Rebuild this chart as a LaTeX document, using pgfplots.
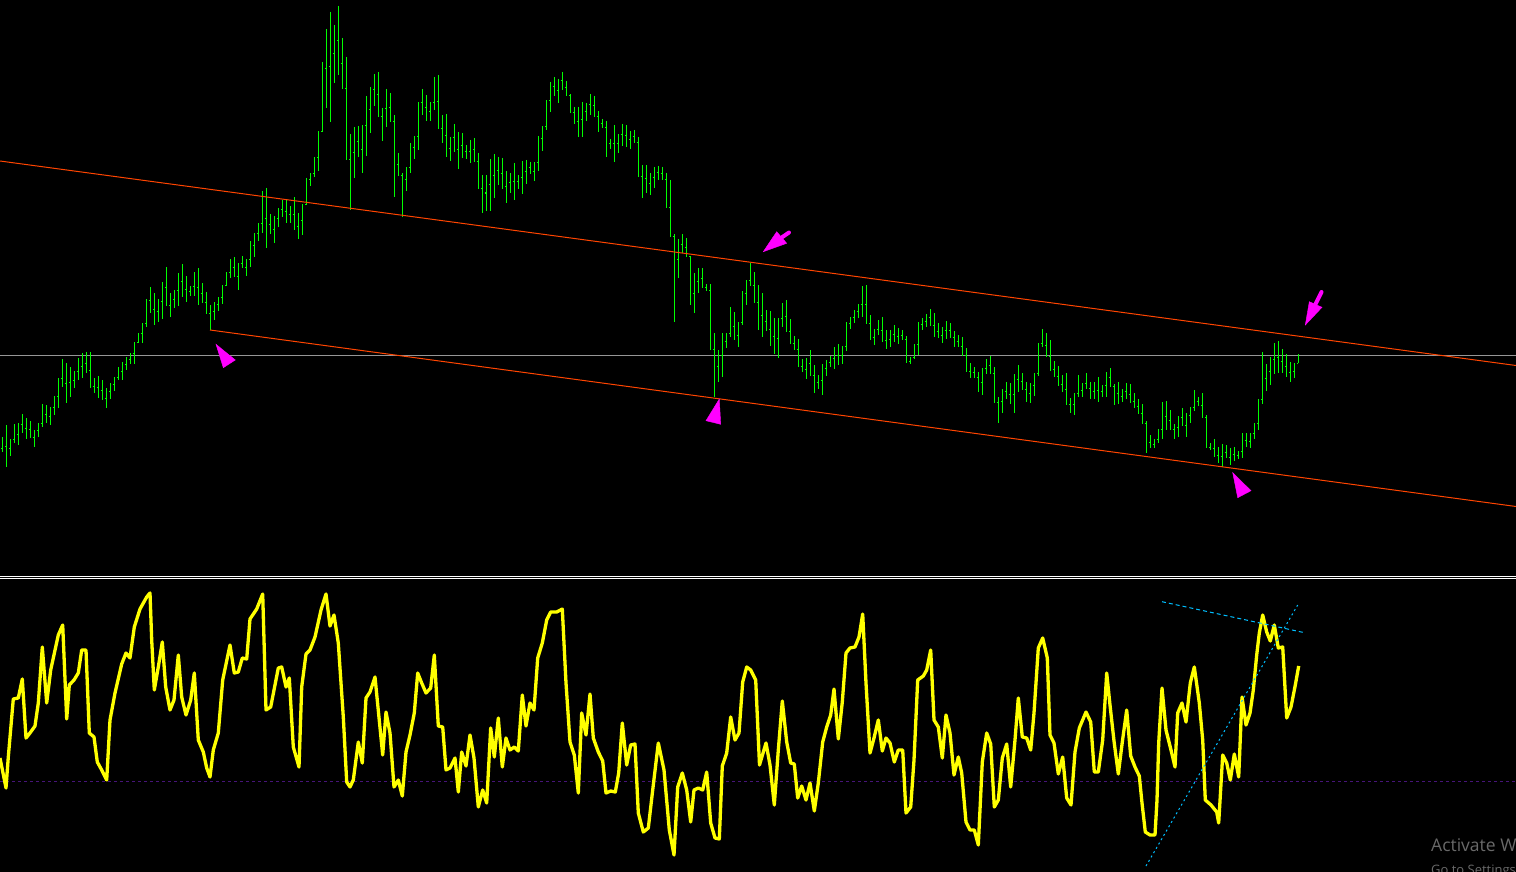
\documentclass[border=0pt]{standalone}
\usepackage{fontspec}
\newfontfamily\wm{Open Sans}
\usepackage{pgfplots}
\usepackage{pgfplotstable}
\pgfplotsset{compat=1.18}

\definecolor{barg}{RGB}{0,255,0}
\definecolor{chred}{RGB}{255,69,0}
\definecolor{hgray}{RGB}{150,150,150}
\definecolor{mag}{RGB}{255,0,255}
\definecolor{osc}{RGB}{255,255,0}
\definecolor{lvl}{RGB}{70,20,120}
\definecolor{dsb}{RGB}{0,191,255}
\definecolor{wmgray}{RGB}{105,105,105}

% price bars in screen units: x, high, low, open, close
\pgfplotstableread{
x h l o c
2 437 452 448 446
6 425 467 446 448
10 439 456 448 439
14 424 443 439 434
18 423 445 434 424
22 414 433 424 428
26 418 439 428 429
30 421 437 429 437
34 430 447 437 430
38 423 437 430 423
42 404 427 423 414
46 405 423 414 416
50 407 425 416 407
54 396 415 407 396
58 378 408 396 378
62 359 387 378 383
66 363 403 383 382
70 367 397 382 380
74 371 388 380 371
78 358 380 371 366
82 353 378 366 363
86 352 373 363 370
90 352 388 370 386
94 378 393 386 387
98 376 398 387 390
102 380 400 390 398
106 388 408 398 391
110 383 399 391 384
114 377 391 384 377
118 367 380 377 371
122 362 380 371 364
126 357 370 364 359
130 353 364 359 353
134 342 364 353 342
138 333 343 342 333
142 323 343 333 323
146 299 327 323 300
150 287 313 300 309
154 293 325 309 311
158 299 322 311 301
162 282 319 301 287
166 267 306 287 305
170 293 317 305 299
174 290 308 299 290
178 273 306 290 281
182 264 297 281 289
186 276 302 289 291
190 286 296 291 286
194 272 296 286 287
198 268 305 287 293
202 283 303 293 302
206 292 313 302 313
210 305 330 313 311
214 302 320 311 304
218 297 311 304 297
222 285 304 297 285
226 272 286 285 272
230 259 278 272 267
234 257 277 267 276
238 263 290 276 263
242 256 268 263 267
246 259 276 267 259
250 241 267 259 245
254 233 257 245 233
258 223 241 233 223
262 191 233 223 218
266 188 248 218 224
270 214 234 224 229
274 216 243 229 218
278 208 227 218 209
282 200 217 209 211
286 199 223 211 214
290 206 223 214 214
294 197 230 214 226
298 213 239 226 220
302 204 235 220 204
306 178 205 204 180
310 174 186 180 174
314 158 177 174 158
318 132 171 158 132
322 62 132 132 69
326 29 108 69 67
330 12 122 67 54
334 25 83 54 41
338 6 75 41 64
342 38 89 64 89
346 57 160 89 160
350 134 210 160 153
354 127 178 153 142
358 126 157 142 150
362 126 173 150 126
366 96 156 126 110
370 87 133 110 90
374 74 106 90 95
378 72 117 95 117
382 109 141 117 109
386 89 127 109 108
390 93 122 108 122
394 115 197 122 165
398 153 176 165 176
402 173 217 176 180
406 168 191 180 168
410 143 173 168 148
414 137 159 148 137
418 103 150 137 103
422 89 115 103 108
426 95 121 108 112
430 103 121 112 103
434 77 110 103 102
438 75 129 102 129
442 115 143 129 136
446 114 157 136 149
450 137 161 149 138
454 124 152 138 150
458 132 169 150 146
462 133 158 146 152
466 145 159 152 152
470 140 163 152 150
474 138 162 150 162
478 153 189 162 189
482 175 213 189 193
486 175 211 193 185
490 159 211 185 176
494 154 198 176 171
498 157 185 171 174
502 158 189 174 187
506 171 203 187 183
510 173 193 183 182
514 163 200 182 182
518 175 189 182 178
522 161 194 178 172
526 160 184 172 168
530 162 174 168 172
534 163 181 172 163
538 136 171 163 139
542 127 151 139 127
546 101 130 127 101
550 82 112 101 87
554 77 96 87 91
558 79 103 91 81
562 72 90 81 88
566 81 96 88 96
570 94 113 96 113
574 107 124 113 122
578 107 137 122 120
582 102 137 120 112
586 103 121 112 105
590 94 115 105 106
594 96 117 106 117
598 111 132 117 124
602 119 128 124 128
606 121 157 128 144
610 139 149 144 144
614 125 162 144 144
618 134 153 144 135
622 124 146 135 136
626 125 147 136 140
630 131 149 140 137
634 130 143 137 143
638 137 177 143 177
642 165 198 177 179
646 165 193 179 184
650 173 195 184 178
654 167 188 178 173
658 166 180 173 174
662 167 180 174 180
666 173 207 180 207
670 180 236 207 236
674 234 322 236 259
678 239 278 259 244
682 234 253 244 247
686 238 256 247 256
690 256 305 256 293
694 273 313 293 281
698 268 293 281 278
702 268 288 278 287
706 284 290 287 290
710 284 349 290 349
714 333 397 349 366
718 350 382 366 355
722 333 377 355 341
726 333 348 341 333
730 307 337 333 326
734 312 340 326 335
738 322 347 335 322
742 291 325 322 293
746 280 305 293 280
750 263 285 280 285
754 272 302 285 302
758 285 330 302 315
762 293 337 315 321
766 310 331 321 329
770 311 346 329 336
774 318 354 336 338
778 318 358 338 318
782 303 327 318 316
786 300 331 316 331
790 319 343 331 343
794 336 349 343 349
798 339 366 349 366
802 359 372 366 369
806 358 379 369 363
810 350 375 363 375
814 365 393 375 382
818 375 389 382 380
822 364 395 380 368
826 360 376 368 362
830 356 367 362 358
834 347 369 358 355
838 344 365 355 355
842 346 364 355 346
846 322 351 346 323
850 317 329 323 317
854 310 323 317 311
858 304 318 311 304
862 286 317 304 304
866 285 323 304 323
870 315 340 323 337
874 329 345 337 329
878 320 335 329 330
882 317 342 330 340
886 330 349 340 339
890 330 347 339 334
894 325 342 334 336
898 328 344 336 335
902 330 339 335 339
906 336 363 339 361
910 357 364 361 357
914 344 359 357 344
918 322 355 344 324
922 318 330 324 321
926 314 327 321 317
930 309 325 317 325
934 313 337 325 331
938 323 338 331 335
942 327 343 335 330
946 321 339 330 330
950 323 337 330 337
954 331 347 337 341
958 335 346 341 346
962 337 355 346 355
966 348 371 355 371
970 363 378 371 372
974 367 377 372 377
978 372 392 377 382
982 368 395 382 368
986 359 374 368 365
990 356 373 365 373
994 367 402 373 402
998 397 423 402 401
1002 389 413 401 391
1006 382 399 391 394
1010 383 404 394 394
1014 374 413 394 379
1018 365 392 379 381
1022 373 389 381 389
1026 382 402 389 393
1030 383 403 393 385
1034 373 396 385 373
1038 343 376 373 343
1042 329 347 343 345
1046 333 357 345 356
1050 340 371 356 369
1054 361 377 369 376
1058 366 386 376 384
1062 375 392 384 389
1066 373 404 389 404
1070 398 413 404 404
1074 393 415 404 393
1078 375 397 393 390
1082 383 397 390 383
1086 373 388 383 388
1090 382 399 388 391
1094 382 399 391 390
1098 377 402 390 391
1102 385 397 391 385
1106 372 397 385 377
1110 368 386 377 386
1114 384 405 386 393
1118 382 404 393 396
1122 389 402 396 391
1126 383 399 391 394
1130 384 403 394 401
1134 393 408 401 406
1138 399 413 406 413
1142 404 423 413 423
1146 421 453 423 442
1150 435 448 442 444
1154 439 448 444 439
1158 429 443 439 429
1162 402 439 429 416
1166 401 430 416 420
1170 410 429 420 429
1174 424 439 429 427
1178 416 437 427 417
1182 408 426 417 425
1186 413 437 425 415
1190 407 423 415 407
1194 390 411 407 401
1198 397 405 401 405
1202 393 417 405 417
1206 415 447 417 447
1210 443 450 447 448
1214 439 457 448 455
1218 447 463 455 456
1222 444 467 456 452
1226 445 458 452 457
1230 448 465 457 454
1234 447 461 454 455
1238 451 459 455 451
1242 433 458 451 440
1246 433 447 440 441
1250 433 448 441 433
1254 423 439 433 423
1258 399 430 423 399
1262 352 404 399 378
1266 364 391 378 371
1270 357 385 371 359
1274 343 374 359 357
1278 341 373 357 361
1282 349 373 361 366
1286 354 377 366 372
1290 362 382 372 371
1294 363 378 371 363
1298 354 363 363 356
}\bars

\begin{document}
\begin{tikzpicture}
\useasboundingbox (0,0) rectangle (1516pt,872pt);
\clip (0,0) rectangle (1516pt,872pt);
\fill[black] (0,0) rectangle (1516pt,872pt);
\begin{axis}[
    at={(0,0)}, anchor=south west,
    scale only axis, width=1516pt, height=872pt,
    xmin=0, xmax=1516, ymin=0, ymax=872,
    y dir=reverse,
    hide axis,
    clip=true,
]
% horizontal price line
\addplot[hgray, line width=1pt] coordinates {(0,355.3) (1516,355.3)};

% OHLC bars
\addplot[barg, line width=1pt, quiver={u=0, v=\thisrow{l}-\thisrow{h}}] table[x=x, y=h] {\bars};
\addplot[barg, line width=1pt, quiver={u=-1.3, v=0}] table[x=x, y=o] {\bars};
\addplot[barg, line width=1pt, quiver={u=1.3, v=0}] table[x=x, y=c] {\bars};

% channel
\addplot[chred, line width=1pt] coordinates {(0,161) (1516,365.5)};
\addplot[chred, line width=1pt] coordinates {(210,330) (1516,506.5)};

% magenta markers
\addplot[draw=mag, fill=mag] coordinates {(216,344.3) (235.3,360) (223.3,367.7)} --cycle;
\addplot[draw=mag, fill=mag] coordinates {(719.3,399) (706,420.7) (720.7,424.3)} --cycle;
\addplot[draw=mag, fill=mag] coordinates {(1232.7,472.7) (1251,490.7) (1237.7,497.7)} --cycle;
\addplot[draw=mag, fill=mag] coordinates {(763.3,251.7) (776.7,231.7) (786.7,243.3)} --cycle;
\addplot[mag, line width=4pt, line cap=round] coordinates {(781,238) (789,232.5)};
\addplot[draw=mag, fill=mag] coordinates {(1305.3,325) (1309.3,301.7) (1322,307.3)} --cycle;
\addplot[mag, line width=4pt, line cap=round] coordinates {(1315.5,304) (1321.5,292)};

% panel separator
\addplot[white, line width=1pt] coordinates {(0,576.4) (1516,576.4)};
\addplot[white, line width=1pt] coordinates {(0,578.7) (1516,578.7)};

% oscillator level
\addplot[lvl, line width=1pt, dash pattern=on 3pt off 3pt] coordinates {(0,781.3) (1516,781.3)};

% oscillator
\addplot[osc, line width=3.3pt, line join=round] coordinates {
(0,758) (6,788) (8.3,757) (13.3,699) (18.3,698) (22.3,679) (26,738) (30,733) (35,726) (38.3,703)
(42.3,647) (46.7,703) (50.7,670) (58.3,635) (62.7,625) (66.7,719) (69.3,685) (74,680) (78.3,673) (81.7,650)
(86,650) (89.3,733) (94,737) (97.3,762) (101.7,770) (106.7,780) (110,720) (115,693) (121.7,664) (126,653)
(130,658) (134.3,627) (140,609) (146.7,597) (150,593) (151.7,640) (154.3,690) (158.3,667) (162.3,642) (165.7,687)
(170,710) (174,700) (178.3,655) (181.7,697) (186,715) (190.7,700) (194.3,673) (198.3,740) (203.3,752) (206.7,768)
(210,777) (213.3,750) (218.3,733) (222.7,680) (230,645) (234.3,673) (238.3,672) (242.3,658) (246.7,659) (250,619)
(256.7,609) (262.7,594) (266,710) (270.7,707) (278.3,668) (281.7,667) (286,687) (289.3,678) (293.3,747) (299,767)
(301.7,687) (306,654) (310,650) (315,637) (321,610) (326,594) (330,626) (334,615) (338.3,643) (343.3,717)
(346.7,782) (350,787) (353.3,780) (358.3,742) (362.3,763) (366,698) (370,692) (375,677) (382.7,755) (386,712)
(390,733) (394,787) (398.3,780) (402.3,796) (406,752) (410,735) (414.3,713) (417.7,673) (421.7,683) (426,693)
(430.7,688) (434.3,655) (438.3,726) (442.7,727) (446,770) (450,768) (455,758) (458.3,792) (461.7,752) (466,766)
(470,735) (474,758) (478.3,807) (482.7,790) (486.7,803) (490.7,728) (494.3,757) (498.3,718) (502.3,767) (506,738)
(510,750) (514.3,747) (518.3,751) (522.3,695) (526,726) (530,703) (534,710) (537.7,658) (542.3,643) (546.7,620)
(550.7,612) (556.7,612) (562.3,609) (566,683) (570,742) (574.3,755) (578.3,793) (581.7,713) (586,735) (590,694)
(593.3,738) (598.3,752) (602.7,761) (606,793) (610.7,791) (615.3,792) (618.7,773) (622.3,723) (626.7,765) (630.7,745)
(635,744) (638.3,813) (643.3,832) (648.3,828) (652.7,790) (658.3,743) (664,770) (669.3,830) (674,855) (677.7,787)
(682.3,773) (686.7,790) (690.7,822) (694,790) (698.3,788) (702.7,790) (706.7,772) (710.7,823) (715,838) (719.3,839)
(722.3,766) (726.7,753) (730.7,717) (735,740) (739,733) (742.7,682) (746.7,667) (750.7,670) (755.7,680) (759.5,765)
(766,743) (770,765) (774.3,805) (778.3,750) (782.3,701) (786.7,742) (790.7,763) (794.3,764) (797.7,798) (801.7,786)
(806,800) (810,783) (814.3,811) (818.3,783) (822.7,742) (826.7,727) (830.7,715) (834,689) (838.3,739) (842.3,702)
(846,653) (850,648) (855,647) (859,637) (862.7,614) (866,683) (870,753) (874,738) (878.3,720) (882.3,751)
(886,738) (890,743) (894.3,762) (898.3,750) (902.7,750) (906,813) (910.7,807) (914,760) (917.7,680) (923.3,676)
(926.7,670) (930.7,650) (934,720) (938.3,727) (942.3,758) (946,715) (950,733) (954,775) (958.3,757) (961.7,773)
(966,822) (970,830) (974.3,830) (978.3,845) (982.3,762) (986.7,733) (990.7,744) (994.3,807) (998.3,800) (1002.3,758)
(1006.7,744) (1010.7,787) (1015,740) (1018.3,698) (1022.3,737) (1026.7,738) (1030.7,750) (1034,713) (1038.3,648) (1042.7,638)
(1047.3,658) (1050,735) (1054,743) (1058.3,774) (1062.7,757) (1066.7,798) (1071,805) (1075,752) (1079.3,728) (1086,712)
(1090.7,722) (1094.3,772) (1098.3,772) (1102.7,740) (1106.7,673) (1110,705) (1114,741) (1118.3,774) (1122.3,742) (1126.7,710)
(1130.7,756) (1135,767) (1139.3,776) (1142,803) (1145.3,832) (1150,835) (1155,835) (1157,800) (1158.7,743) (1162,688)
(1166,730) (1171,750) (1175,767) (1177.7,713) (1182,703) (1186,722) (1190.3,683) (1194.3,667) (1199.3,703) (1202.7,740)
(1205.3,800) (1211,805) (1216.7,812) (1218.7,823) (1222.7,755) (1226.7,763) (1230.3,780) (1234.3,754) (1238.7,777) (1242,697)
(1246,725) (1250,713) (1253.3,690) (1256.7,655) (1259.3,633) (1262.7,615) (1266.7,632) (1270.3,641) (1274.3,625) (1278.3,648)
(1282.7,647) (1286.7,718) (1291,707) (1295.3,685) (1298.7,666)
};

% trend lines on the oscillator
\addplot[dsb, line width=1pt, dash pattern=on 4pt off 3pt] coordinates {(1162,601.7) (1302.7,632.3)};
\addplot[dsb, line width=1pt, dash pattern=on 2pt off 3pt] coordinates {(1146,866) (1297.7,605)};

% watermark
\node[anchor=base west, text=wmgray, font=\wm\fontsize{17.5}{18}\selectfont, inner sep=0pt] at (axis cs:1431,851.7) {Activate Windows};
\node[anchor=base west, text=wmgray, font=\wm\fontsize{13}{14}\selectfont, inner sep=0pt] at (axis cs:1431,874) {Go to Settings to activate Windows.};
\end{axis}
\end{tikzpicture}
\end{document}
